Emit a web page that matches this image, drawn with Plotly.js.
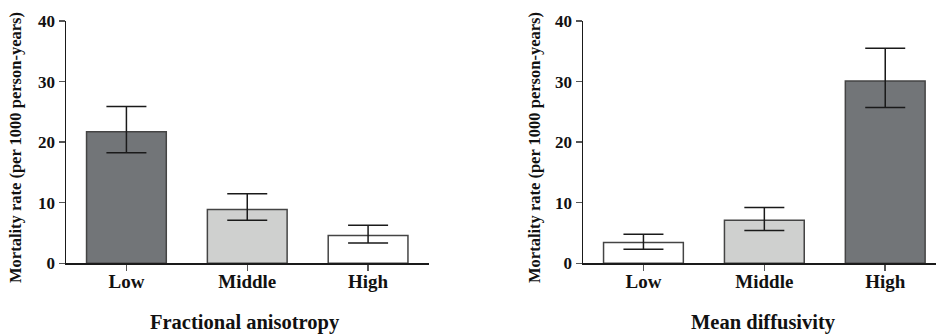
<!DOCTYPE html>
<html>
<head>
<meta charset="utf-8">
<script src="https://cdn.plot.ly/plotly-3.0.1.min.js"></script>
<style>html,body{margin:0;padding:0;background:#fff}#chart{width:936px;height:335px}</style>
</head>
<body>
<div id="chart"></div>
<script>
const categories = ["Low", "Middle", "High"];
const faValues = [21.7, 8.9, 4.6];
const faErrUp = [4.2, 2.6, 1.7];
const faErrDown = [3.45, 1.8, 1.25];
const mdValues = [3.45, 7.1, 30.1];
const mdErrUp = [1.35, 2.1, 5.4];
const mdErrDown = [1.15, 1.7, 4.4];
const faColors = ["#727578", "#cfd0cf", "#ffffff"];
const mdColors = ["#ffffff", "#cfd0cf", "#727578"];
const yTicks = [0, 10, 20, 30, 40];
const panelTitles = ["Fractional anisotropy", "Mean diffusivity"];
const yTitle = "Mortality rate (per 1000 person-years)";

const serif = "Liberation Serif, Times New Roman, serif";
function barTrace(vals, up, down, colors, xa, ya) {
  return {
    type: "bar", x: categories, y: vals, xaxis: xa, yaxis: ya, width: 0.66,
    marker: {color: colors, line: {color: "#444", width: 1.5}},
    error_y: {type: "data", symmetric: false, array: up, arrayminus: down,
      color: "#1a1a1a", thickness: 1.5, width: 20},
    hoverinfo: "none", showlegend: false
  };
}
const W = 936, H = 335;
const yDom = [(335 - 263.3) / H, (335 - 21) / H];
function xax(dom, range) {
  return {domain: dom, range: range, type: "category", showgrid: false, zeroline: false,
    showline: true, linecolor: "#1a1a1a", linewidth: 1.5,
    ticks: "outside", ticklen: 6, tickcolor: "#555", tickwidth: 1.5, ticklabelstandoff: -6,
    tickfont: {family: serif, size: 19, color: "#111", weight: "bold"}, fixedrange: true};
}
function yax(anchor) {
  return {domain: yDom, range: [0, 40], anchor: anchor, showgrid: false, zeroline: false,
    showline: true, linecolor: "#1a1a1a", linewidth: 1.5,
    tickvals: yTicks, ticktext: yTicks.map(String),
    ticks: "outside", ticklen: 6, tickcolor: "#555", tickwidth: 1.5,
    tickfont: {family: serif, size: 17, color: "#111", weight: "bold"}, fixedrange: true};
}
const layout = {
  width: W, height: H, margin: {l: 0, r: 0, t: 0, b: 0},
  paper_bgcolor: "#fff", plot_bgcolor: "rgba(0,0,0,0)", bargap: 0.34,
  xaxis: xax([66 / W, 428.5 / W], [-0.5, 2.5]), yaxis: yax("x"),
  xaxis2: Object.assign(xax([583 / W, 1], [-0.5, 2.42]), {anchor: "y2"}),
  yaxis2: yax("x2"),
  annotations: [
    {text: yTitle, xref: "paper", yref: "paper", x: 15 / W, y: (335 - 148) / H, textangle: -90,
     showarrow: false, xanchor: "center", yanchor: "middle",
     font: {family: serif, size: 16.5, color: "#111", weight: "bold"}},
    {text: yTitle, xref: "paper", yref: "paper", x: 534 / W, y: (335 - 148) / H, textangle: -90,
     showarrow: false, xanchor: "center", yanchor: "middle",
     font: {family: serif, size: 16.5, color: "#111", weight: "bold"}},
    {text: panelTitles[0], xref: "paper", yref: "paper", x: 245 / W, y: (335 - 322) / H,
     showarrow: false, xanchor: "center", yanchor: "middle",
     font: {family: serif, size: 20.5, color: "#111", weight: "bold"}},
    {text: panelTitles[1], xref: "paper", yref: "paper", x: 763 / W, y: (335 - 322) / H,
     showarrow: false, xanchor: "center", yanchor: "middle",
     font: {family: serif, size: 20.5, color: "#111", weight: "bold"}}
  ]
};
Plotly.newPlot("chart", [
  barTrace(faValues, faErrUp, faErrDown, faColors, "x", "y"),
  barTrace(mdValues, mdErrUp, mdErrDown, mdColors, "x2", "y2")
], layout, {staticPlot: true, displayModeBar: false});
</script>
</body>
</html>
